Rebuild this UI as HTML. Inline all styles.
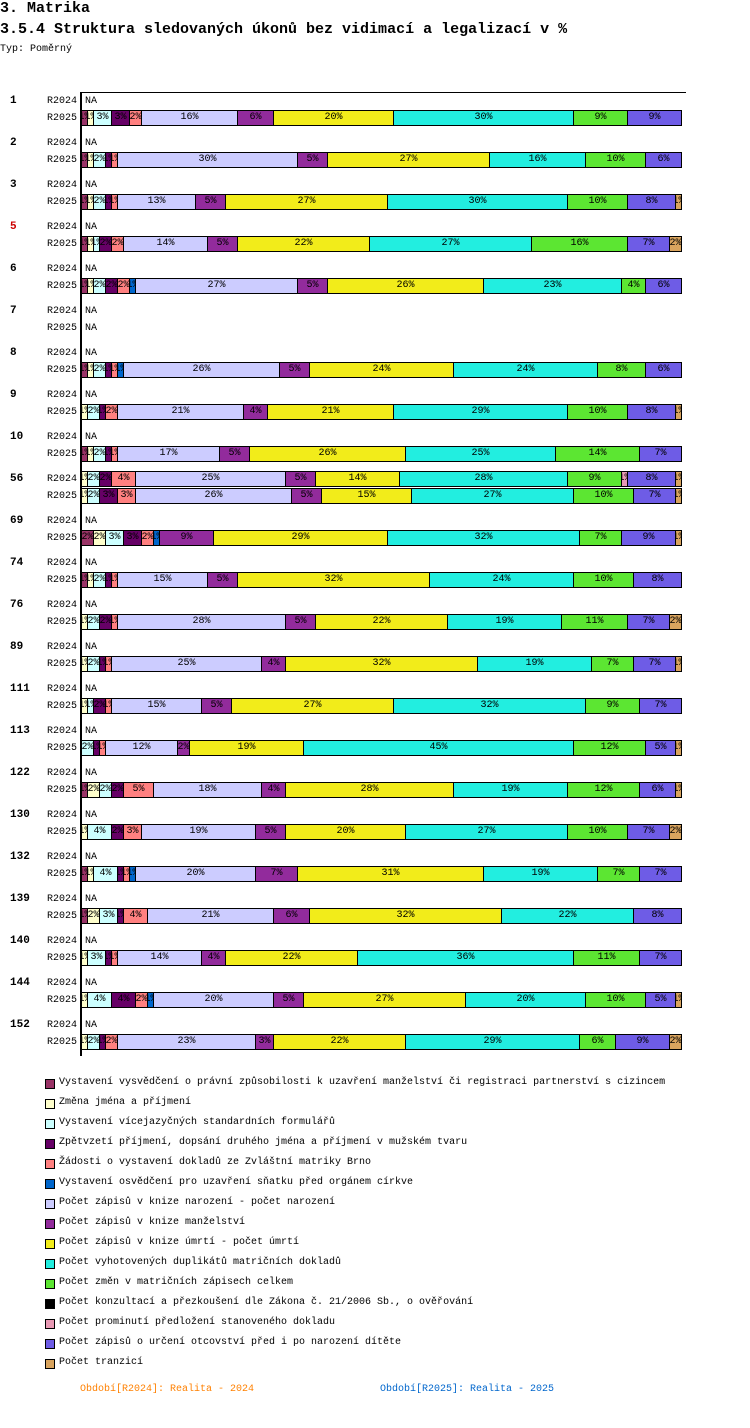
<!DOCTYPE html>
<html><head><meta charset="utf-8">
<style>
body{margin:0;width:750px;height:1428px;background:#fff;position:relative;overflow:hidden;font-family:"Liberation Mono",monospace;color:#000}
.abs{position:absolute;white-space:nowrap}
.seg{position:absolute;box-sizing:border-box;border:1px solid #000;overflow:hidden;font-size:10px;line-height:14px;text-align:center;display:flex;justify-content:center}
.seg span{white-space:nowrap}
.lg{position:absolute;left:45px;width:8px;height:8px;border:1px solid #000}
.lt{position:absolute;left:59px;font-size:10px;white-space:nowrap}
</style></head>
<body>
<div class="abs" style="left:0;top:0;font-size:15px;font-weight:bold">3. Matrika</div>
<div class="abs" style="left:0;top:21px;font-size:15px;font-weight:bold">3.5.4 Struktura sledovaných úkonů bez vidimací a legalizací v %</div>
<div class="abs" style="left:0;top:44px;font-size:10px">Typ: Poměrný</div>
<div id="chart"></div>
<div id="legend"></div>
<div class="abs" style="left:80px;top:1384px;font-size:10px;color:#ff8000">Období[R2024]: Realita - 2024</div>
<div class="abs" style="left:380px;top:1384px;font-size:10px;color:#0066cc">Období[R2025]: Realita - 2025</div>
<script>
const seriesNames=["Vystavení vysvědčení o právní způsobilosti k uzavření manželství či registraci partnerství s cizincem","Změna jména a příjmení","Vystavení vícejazyčných standardních formulářů","Zpětvzetí příjmení, dopsání druhého jména a příjmení v mužském tvaru","Žádosti o vystavení dokladů ze Zvláštní matriky Brno","Vystavení osvědčení pro uzavření sňatku před orgánem církve","Počet zápisů v knize narození - počet narození","Počet zápisů v knize manželství","Počet zápisů v knize úmrtí - počet úmrtí","Počet vyhotovených duplikátů matričních dokladů","Počet změn v matričních zápisech celkem","Počet  konzultací a přezkoušení dle Zákona č. 21/2006 Sb., o ověřování","Počet prominutí předložení stanoveného dokladu","Počet zápisů o určení otcovství před i po narození dítěte","Počet tranzicí"];
const colors=["#993366","#ffffcc","#ccffff","#660066","#ff8080","#0066cc","#ccccff","#922b9c","#f2ec1a","#22eee0","#5ce632","#000000","#e899b4","#6e5ce6","#d9a45e"];
const groups=["1","2","3","5","6","7","8","9","10","56","69","74","76","89","111","113","122","130","132","139","140","144","152"];
const values2024=[null,null,null,null,null,null,null,null,null,
[0,1,2,2,4,0,25,5,14,28,9,0,1,8,1],
null,null,null,null,null,null,null,null,null,null,null,null,null];
const values2025=[
[1,1,3,3,2,0,16,6,20,30,9,0,0,9,0],
[1,1,2,1,1,0,30,5,27,16,10,0,0,6,0],
[1,1,2,1,1,0,13,5,27,30,10,0,0,8,1],
[1,1,1,2,2,0,14,5,22,27,16,0,0,7,2],
[1,1,2,2,2,1,27,5,26,23,4,0,0,6,0],
null,
[1,1,2,1,1,1,26,5,24,24,8,0,0,6,0],
[0,1,2,1,2,0,21,4,21,29,10,0,0,8,1],
[1,1,2,1,1,0,17,5,26,25,14,0,0,7,0],
[0,1,2,3,3,0,26,5,15,27,10,0,0,7,1],
[2,2,3,3,2,1,0,9,29,32,7,0,0,9,1],
[1,1,2,1,1,0,15,5,32,24,10,0,0,8,0],
[0,1,2,2,1,0,28,5,22,19,11,0,0,7,2],
[0,1,2,1,1,0,25,4,32,19,7,0,0,7,1],
[0,1,1,2,1,0,15,5,27,32,9,0,0,7,0],
[0,0,2,1,1,0,12,2,19,45,12,0,0,5,1],
[1,2,2,2,5,0,18,4,28,19,12,0,0,6,1],
[0,1,4,2,3,0,19,5,20,27,10,0,0,7,2],
[1,1,4,1,1,1,20,7,31,19,7,0,0,7,0],
[1,2,3,1,4,0,21,6,32,22,0,0,0,8,0],
[0,1,3,1,1,0,14,4,22,36,11,0,0,7,0],
[0,1,4,4,2,1,20,5,27,20,10,0,0,5,1],
[0,1,2,1,2,0,23,3,22,29,6,0,0,9,2]];
const X0=81,PW=600,TOP=93,GAP=42,ROWGAP=17,BH=16;
const xScale=(p,total)=>X0+p/total*PW;
const yRow=(gi,ri)=>TOP+gi*GAP+ri*ROWGAP;
const chart=document.getElementById('chart');
function mk(cls,style,text){const d=document.createElement('div');d.className=cls;d.style.cssText=style;if(text!=null)d.textContent=text;chart.appendChild(d);return d;}
const ax=mk('abs','left:80px;top:92px;width:2px;height:964px;background:#000');


const tx=mk('abs','left:81px;top:92px;width:605px;height:1px;background:#000');


groups.forEach((g,gi)=>{
  const gl=mk('abs','left:10px;top:'+(yRow(gi,0)+2)+'px;font-size:11px;font-weight:bold;color:'+(g==='5'?'#cc0000':'#000'),g);
  
  
  [values2024[gi],values2025[gi]].forEach((vals,ri)=>{
    const y=yRow(gi,ri);
    const rl=mk('abs','left:47px;top:'+(y+3)+'px;font-size:10px;width:34px;overflow:hidden',ri?'R2025':'R2024');
    
    
    if(!vals){
      const na=mk('abs','left:85px;top:'+(y+3)+'px;font-size:10px','NA');
      
      
      return;
    }
    const total=vals.reduce((a,b)=>a+b,0);
    let cum=0;
    vals.forEach((v,si)=>{
      if(v<=0)return;
      const x1=xScale(cum,total),x2=xScale(cum+v,total);cum+=v;
      const s=mk('seg','left:'+Math.round(x1)+'px;top:'+y+'px;width:'+(Math.round(x2)-Math.round(x1)+1)+'px;height:'+BH+'px;background:'+colors[si]+';color:'+(si===11?'#fff':'#000'));
      
      
      const sp=document.createElement('span');sp.textContent=Math.round(v/total*100)+'%';s.appendChild(sp);
    });
  });
});
const lg=document.getElementById('legend');
seriesNames.forEach((n,i)=>{
  const y=1079+i*20;
  const b=document.createElement('div');b.className='lg';b.style.top=y+'px';b.style.background=colors[i];
  
  
  lg.appendChild(b);
  const t=document.createElement('div');t.className='lt';t.style.top=(y-2)+'px';t.textContent=n;
  
  
  lg.appendChild(t);
});
</script>
</body></html>
